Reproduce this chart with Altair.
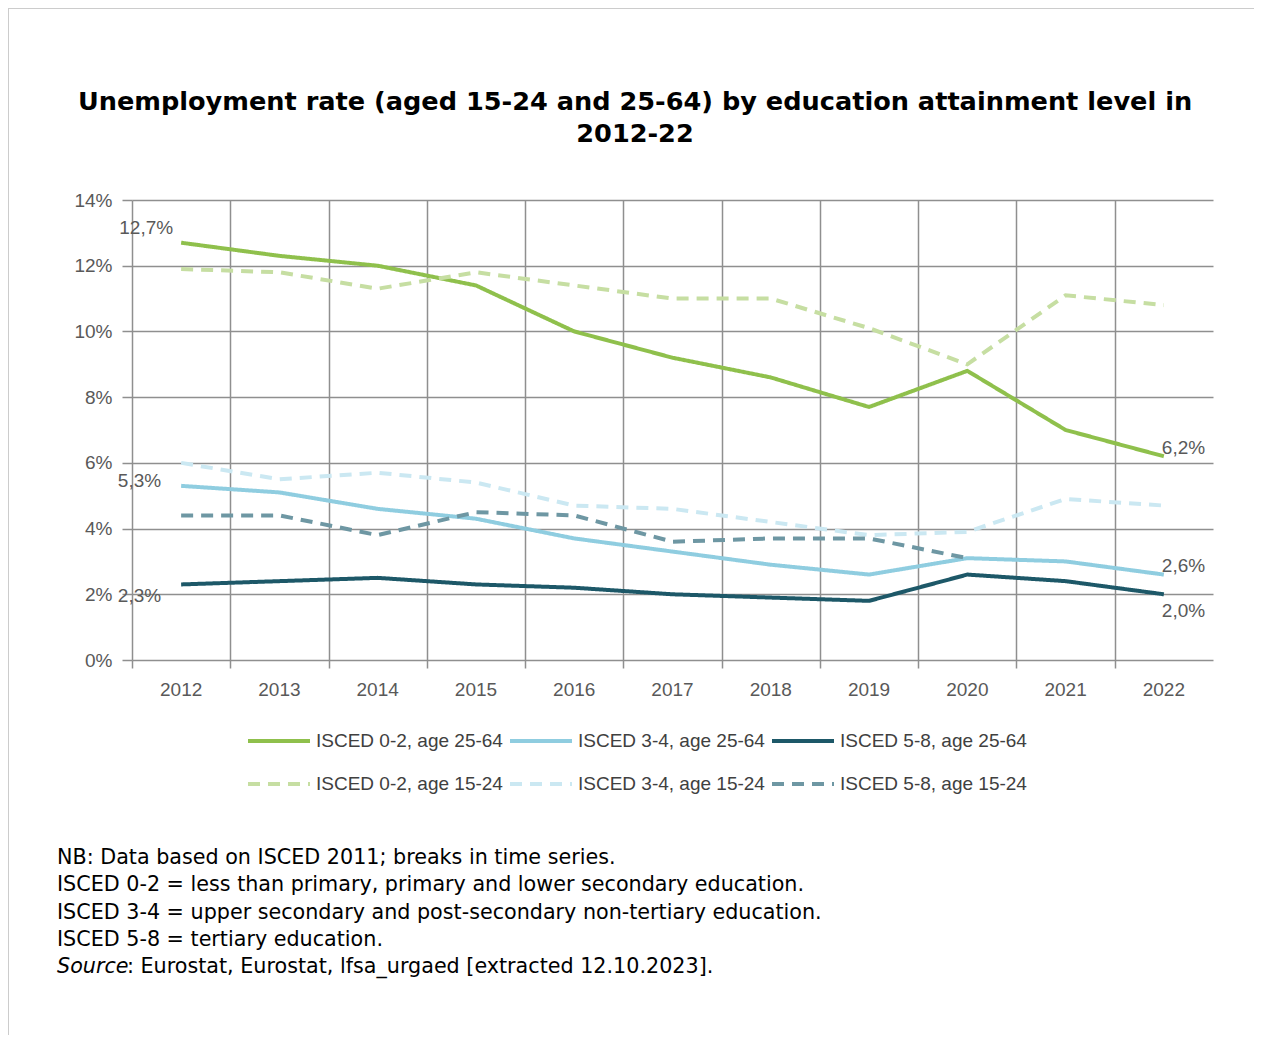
import altair as alt
import pandas as pd

years = [2012, 2013, 2014, 2015, 2016, 2017, 2018, 2019, 2020, 2021, 2022]
series_names = [
    "ISCED 0-2, age 25-64", "ISCED 3-4, age 25-64", "ISCED 5-8, age 25-64",
    "ISCED 0-2, age 15-24", "ISCED 3-4, age 15-24", "ISCED 5-8, age 15-24",
]
isced02_2564 = [12.7, 12.3, 12.0, 11.4, 10.0, 9.2, 8.6, 7.7, 8.8, 7.0, 6.2]
isced34_2564 = [5.3, 5.1, 4.6, 4.3, 3.7, 3.3, 2.9, 2.6, 3.1, 3.0, 2.6]
isced58_2564 = [2.3, 2.4, 2.5, 2.3, 2.2, 2.0, 1.9, 1.8, 2.6, 2.4, 2.0]
isced02_1524 = [11.9, 11.8, 11.3, 11.8, 11.4, 11.0, 11.0, 10.1, 9.0, 11.1, 10.8]
isced34_1524 = [6.0, 5.5, 5.7, 5.4, 4.7, 4.6, 4.2, 3.8, 3.9, 4.9, 4.7]
isced58_1524 = [4.4, 4.4, 3.8, 4.5, 4.4, 3.6, 3.7, 3.7, 3.1, None, None]
y_ticks = [0, 2, 4, 6, 8, 10, 12, 14]

title_line1 = "Unemployment rate (aged 15-24 and 25-64) by education attainment level in"
title_line2 = "2012-22"
note_lines = [
    "NB: Data based on ISCED 2011; breaks in time series.",
    "ISCED 0-2 = less than primary, primary and lower secondary education.",
    "ISCED 3-4 = upper secondary and post-secondary non-tertiary education.",
    "ISCED 5-8 = tertiary education.",
]
source_word = "Source"
source_rest = ": Eurostat, Eurostat, lfsa_urgaed [extracted 12.10.2023]."

colors = ["#8fc04c", "#8fcde0", "#1d5868", "#c6dea2", "#cbe8f2", "#6e97a3"]
dashes = [[1, 0], [1, 0], [1, 0], [12, 8], [12, 8], [12, 8]]
widths = [4, 4, 4, 3, 3, 3]

rows = []
for name, vals in zip(series_names, [isced02_2564, isced34_2564, isced58_2564,
                                     isced02_1524, isced34_1524, isced58_1524]):
    for yr, v in zip(years, vals):
        if v is not None:
            rows.append({"year": yr, "series": name, "value": v})
df = pd.DataFrame(rows)

# category boundaries (grid lines sit between the years)
boundaries = [yr - 0.5 for yr in years]

GRID = "#8f8f8f"
LAB = "#595959"
AXFONT = "Liberation Sans"

x_enc = alt.X(
    "year:Q", title=None,
    scale=alt.Scale(domain=[years[0] - 0.5, years[-1] + 0.5], nice=False, zero=False),
    axis=alt.Axis(values=boundaries, labels=False, grid=True, gridColor=GRID, gridWidth=1.5,
                  domain=False, ticks=True, tickColor=GRID, tickWidth=1.5, tickSize=8),
)
y_enc = alt.Y(
    "value:Q", title=None,
    scale=alt.Scale(domain=[0, 14], nice=False),
    axis=alt.Axis(values=y_ticks, labelExpr="datum.value + '%'", grid=True, gridColor=GRID,
                  gridWidth=1.5, domain=False, tickColor=GRID, tickWidth=1.5, tickSize=10,
                  labelPadding=10, labelFont=AXFONT, labelFontSize=19, labelColor=LAB),
)

legend = alt.Legend(title=None, orient="none", legendX=114, legendY=508, columns=3,
                    direction="horizontal",
                    symbolType="stroke", symbolSize=3844, symbolStrokeWidth=4,
                    labelFont=AXFONT, labelFontSize=19, labelColor="#404040",
                    labelOffset=4, columnPadding=-1, rowPadding=-27, labelLimit=400)

base = alt.Chart(df)
lines = base.mark_line().encode(
    x=x_enc, y=y_enc,
    color=alt.Color("series:N", scale=alt.Scale(domain=series_names, range=colors), legend=legend),
    strokeDash=alt.StrokeDash("series:N", scale=alt.Scale(domain=series_names, range=dashes), legend=legend),
    strokeWidth=alt.StrokeWidth("series:N", scale=alt.Scale(domain=series_names, range=widths), legend=None),
    order=alt.Order("year:Q"),
)

year_labels = alt.Chart(pd.DataFrame({"year": years})).mark_text(
    baseline="middle", align="center", font=AXFONT, fontSize=19, color=LAB
).encode(x="year:Q", y=alt.value(490), text=alt.Text("year:Q", format="d"))

def lab(series, year, align, dx, dy):
    return base.transform_filter(
        (alt.datum.series == series) & (alt.datum.year == year)
    ).transform_calculate(
        label="replace(format(datum.value, '.1f'), '.', ',') + '%'"
    ).mark_text(align=align, baseline="middle", dx=dx, dy=dy, font=AXFONT, fontSize=19,
                color=LAB).encode(x="year:Q", y="value:Q", text="label:N")

labels = [
    lab(series_names[0], 2012, "right", -8, -15),
    lab(series_names[1], 2012, "right", -20, -5),
    lab(series_names[2], 2012, "right", -20, 12),
    lab(series_names[0], 2022, "left", -2, -8),
    lab(series_names[1], 2022, "left", -2, -9),
    lab(series_names[2], 2022, "left", -2, 17),
]

one = pd.DataFrame({"k": [0]})
border = alt.Chart(one).mark_rect(fillOpacity=0, stroke="#cccccc", strokeWidth=2).encode(
    x=alt.value(-124), y=alt.value(-192), x2=alt.value(1400), y2=alt.value(1200))

TFONT = "DejaVu Sans"
TFS = 25.6
title1 = alt.Chart(one).mark_text(align="center", baseline="middle", font=TFONT, fontSize=TFS,
                                  fontWeight="bold", color="#000000").encode(
    x=alt.value(503), y=alt.value(-98), text=alt.value(title_line1))
title2 = alt.Chart(one).mark_text(align="center", baseline="middle", font=TFONT, fontSize=TFS,
                                  fontWeight="bold", color="#000000").encode(
    x=alt.value(503), y=alt.value(-66), text=alt.value(title_line2))

NFS = 20.7
notes = alt.Chart(one).mark_text(align="left", baseline="middle", font=TFONT, fontSize=NFS,
                                 lineHeight=27.3, color="#000000").encode(
    x=alt.value(-75), y=alt.value(658), text=alt.value(note_lines))
src1 = alt.Chart(one).mark_text(align="left", baseline="middle", font=TFONT, fontSize=NFS,
                                fontStyle="italic", color="#000000").encode(
    x=alt.value(-75), y=alt.value(767), text=alt.value(source_word))
src2 = alt.Chart(one).mark_text(align="left", baseline="middle", font=TFONT, fontSize=NFS,
                                color="#000000").encode(
    x=alt.value(-5), y=alt.value(767), text=alt.value(source_rest))

chart = alt.layer(border, title1, title2, lines, year_labels, *labels, notes, src1, src2).properties(
    width=1081, height=460,
    background="white",
    autosize=alt.AutoSizeParams(type="none"),
    padding={"left": 124, "top": 192, "right": 41, "bottom": 375},
).configure_view(stroke=None)

chart.save("out.html", embed_options={"renderer": "svg", "actions": False})
